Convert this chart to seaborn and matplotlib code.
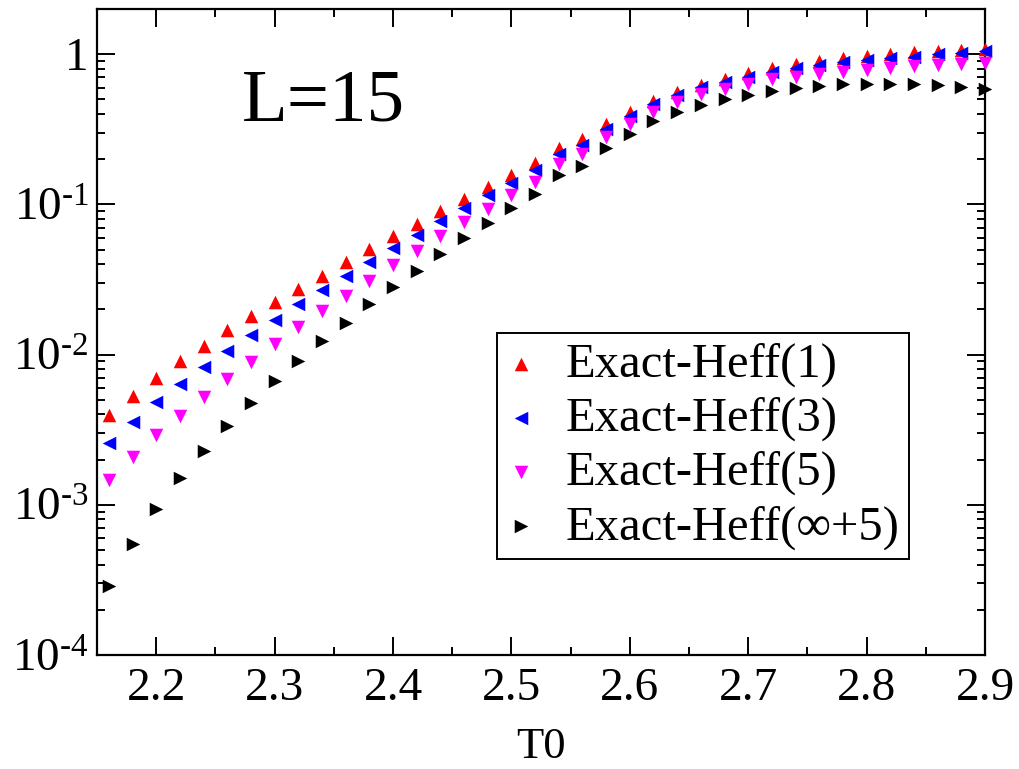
import numpy as np
import pandas as pd
import matplotlib
matplotlib.use("Agg")
import matplotlib.pyplot as plt
from matplotlib.ticker import FixedLocator, LogLocator, NullFormatter, FuncFormatter, MultipleLocator
import seaborn as sns

T0 = [2.16, 2.18, 2.20, 2.22, 2.24, 2.26, 2.28, 2.30, 2.32, 2.34, 2.36, 2.38, 2.40,
      2.42, 2.44, 2.46, 2.48, 2.50, 2.52, 2.54, 2.56, 2.58, 2.60, 2.62, 2.64, 2.66,
      2.68, 2.70, 2.72, 2.74, 2.76, 2.78, 2.80, 2.82, 2.84, 2.86, 2.88, 2.90]

heff1 = [3.94e-3, 5.27e-3, 6.95e-3, 9.0e-3, 0.0114, 0.0145, 0.0180, 0.0223, 0.0273,
         0.0336, 0.0413, 0.0507, 0.0615, 0.0743, 0.0902, 0.109, 0.131, 0.157, 0.190,
         0.239, 0.271, 0.341, 0.413, 0.489, 0.561, 0.625, 0.681, 0.747, 0.806, 0.858,
         0.903, 0.94, 0.975, 1.0, 1.03, 1.05, 1.07, 1.09]

heff3 = [2.58e-3, 3.58e-3, 4.81e-3, 6.37e-3, 8.28e-3, 0.0106, 0.0136, 0.0171, 0.0216,
         0.0268, 0.0336, 0.0413, 0.0514, 0.063, 0.0774, 0.094, 0.115, 0.139, 0.169,
         0.215, 0.249, 0.316, 0.388, 0.464, 0.533, 0.609, 0.654, 0.71, 0.766, 0.806,
         0.849, 0.893, 0.917, 0.945, 0.965, 1.0, 1.015, 1.05]

heff5 = [1.47e-3, 2.08e-3, 2.9e-3, 3.92e-3, 5.22e-3, 6.92e-3, 8.98e-3, 0.0118, 0.0153,
         0.0194, 0.0247, 0.0308, 0.0392, 0.0489, 0.0615, 0.0762, 0.0936, 0.116, 0.142,
         0.185, 0.215, 0.281, 0.341, 0.415, 0.477, 0.541, 0.591, 0.631, 0.681, 0.71,
         0.736, 0.762, 0.786, 0.815, 0.836, 0.849, 0.867, 0.88]

heff_inf5 = [2.86e-4, 5.5e-4, 9.4e-4, 1.51e-3, 2.29e-3, 3.36e-3, 4.76e-3, 6.64e-3, 9.12e-3,
             0.0123, 0.0163, 0.0216, 0.0283, 0.036, 0.0464, 0.060, 0.0755, 0.094, 0.118,
             0.156, 0.180, 0.239, 0.296, 0.36, 0.413, 0.457, 0.501, 0.535, 0.57, 0.60,
             0.615, 0.631, 0.631, 0.637, 0.631, 0.625, 0.609, 0.584]

labels = ["Exact-Heff(1)", "Exact-Heff(3)", "Exact-Heff(5)", "Exact-Heff(\u221e+5)"]
series = [heff1, heff3, heff5, heff_inf5]
colors = ["#ff0000", "#0000ff", "#ff00ff", "#000000"]
markers = ["^", "<", "v", ">"]

sns.set_style("ticks")
plt.rcParams["font.family"] = ["Liberation Serif", "DejaVu Serif"]
plt.rcParams["mathtext.fontset"] = "custom"
plt.rcParams["mathtext.rm"] = "Liberation Serif"
plt.rcParams["mathtext.it"] = "Liberation Serif:italic"
plt.rcParams["text.color"] = "black"
plt.rcParams["axes.labelcolor"] = "black"
plt.rcParams["xtick.color"] = "black"
plt.rcParams["ytick.color"] = "black"

fig = plt.figure(figsize=(10.2, 7.69), dpi=100)
ax = fig.add_axes([97/1020, 1 - 655/769, 888/1020, 646/769])

for lab, ys, c, m in zip(labels, series, colors, markers):
    df = pd.DataFrame({"T0": T0, "val": ys})
    sns.scatterplot(data=df, x="T0", y="val", color=c, marker=m, s=95,
                    linewidth=0, label=lab, ax=ax, clip_on=False, zorder=3)

ax.set_yscale("log")
ax.set_xlim(2.15, 2.9)
ax.set_ylim(1e-4, 2.0)

ax.xaxis.set_major_locator(MultipleLocator(0.1))
ax.xaxis.set_minor_locator(MultipleLocator(0.05))
ax.xaxis.set_major_formatter(FuncFormatter(lambda v, p: f"{v:.1f}" if v > 2.17 else ""))
ax.yaxis.set_major_locator(FixedLocator([1e-4, 1e-3, 1e-2, 1e-1, 1]))
ax.yaxis.set_minor_locator(LogLocator(base=10, subs=np.arange(2, 10)))
ax.yaxis.set_minor_formatter(NullFormatter())

def yfmt(v, p):
    e = int(round(np.log10(v)))
    if e == 0:
        return "1"
    return r"$\mathregular{10^{\text{-}%d}}$" % abs(e)

ax.yaxis.set_major_formatter(FuncFormatter(yfmt))

ax.tick_params(which="both", direction="in", top=True, right=True, colors="black")
ax.tick_params(which="major", length=13, width=1.4, labelsize=34)
ax.tick_params(which="minor", length=6, width=1.4)
ax.tick_params(axis="x", which="major", pad=9)
ax.tick_params(axis="y", which="major", pad=6)
for s in ax.spines.values():
    s.set_linewidth(1.6)
    s.set_color("black")

ax.set_xlabel("T0", fontsize=32, labelpad=12, color="black")
ax.set_ylabel("")

ax.text(0.163, 0.828, "L=15", transform=ax.transAxes, fontsize=54,
        ha="left", va="baseline", color="black")

leg = ax.legend(loc="upper left", bbox_to_anchor=(0.4505, 0.4985), fontsize=35,
                frameon=True, fancybox=False, edgecolor="black", framealpha=1,
                handlelength=0.6, handletextpad=0.6, labelspacing=0.2,
                borderpad=0.2, borderaxespad=0, markerscale=1.0)
leg.get_frame().set_linewidth(1.4)
for t in leg.get_texts():
    t.set_color("black")

fig.savefig("out.png", dpi=100)
